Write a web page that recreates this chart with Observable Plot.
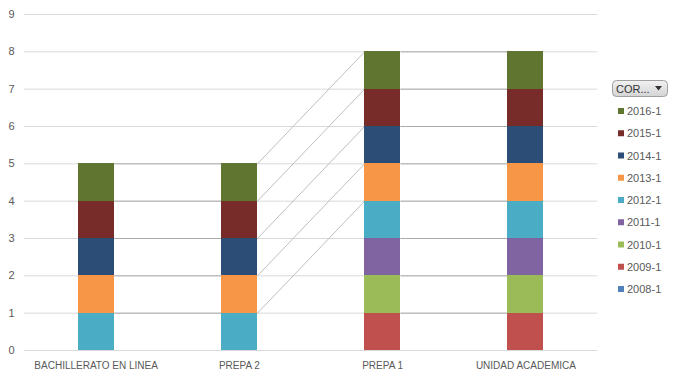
<!DOCTYPE html>
<html><head><meta charset="utf-8">
<script src="https://cdn.jsdelivr.net/npm/d3@7"></script>
<script src="https://cdn.jsdelivr.net/npm/@observablehq/plot@0.6"></script>
<style>
body{margin:0;background:#fff;font-family:"Liberation Sans",Arial,sans-serif;}
#wrap{position:relative;width:674px;height:379px;}
#legend{position:absolute;left:0;top:0;}
</style></head>
<body><div id="wrap"></div>
<script>
const categories = ["BACHILLERATO EN LINEA","PREPA 2","PREPA 1","UNIDAD ACADEMICA"];
const seriesNames = ["2008-1","2009-1","2010-1","2011-1","2012-1","2013-1","2014-1","2015-1","2016-1"];
const seriesColors = ["#4F81BD","#C0504D","#9BBB59","#8064A2","#4BACC6","#F79646","#2C4D75","#772C2A","#5F7530"];
// values per series, in category order (null = blank)
const v2008 = [null,null,null,null];
const v2009 = [null,null,1,1];
const v2010 = [null,null,1,1];
const v2011 = [null,null,1,1];
const v2012 = [1,1,1,1];
const v2013 = [1,1,1,1];
const v2014 = [1,1,1,1];
const v2015 = [1,1,1,1];
const v2016 = [1,1,1,1];
const seriesValues = [v2008,v2009,v2010,v2011,v2012,v2013,v2014,v2015,v2016];
const yTicks = [0,1,2,3,4,5,6,7,8,9];

// cumulative stacking
const tops = categories.map(() => 0);
const bars = [];
const topBySeries = {};
seriesNames.forEach((s, si) => {
  topBySeries[s] = categories.map((c, ci) => {
    const v = seriesValues[si][ci];
    if (v == null) return null;
    const y1 = tops[ci];
    tops[ci] += v;
    if (v > 0) bars.push({series: s, ci, y1, y2: tops[ci]});
    return tops[ci];
  });
});
const half = 0.126;
const links = [];
seriesNames.forEach(s => {
  const t = topBySeries[s];
  for (let i = 0; i < categories.length - 1; i++) {
    if (t[i] != null && t[i+1] != null) links.push({x1: i + half, x2: i + 1 - half, y1: t[i], y2: t[i+1]});
  }
});

const plot = Plot.plot({
  width: 674, height: 379,
  marginLeft: 24, marginRight: 77, marginTop: 14, marginBottom: 29,
  style: {fontFamily: "Liberation Sans, Arial, sans-serif", fontSize: "11px", color: "#595959", background: "#fff"},
  x: {type: "linear", domain: [-0.5, categories.length - 0.5], axis: null},
  y: {domain: [0, 9], axis: null},
  color: {domain: seriesNames, range: seriesColors},
  marks: [
    Plot.ruleY(yTicks, {stroke: "#d9d9d9", strokeWidth: 1}),
    Plot.link(links, {x1: "x1", x2: "x2", y1: "y1", y2: "y2", stroke: d => d.y1 === d.y2 ? "#a6a6a6" : "#b8b8b8", strokeWidth: 0.9}),
    Plot.rect(bars, {x1: d => d.ci - half, x2: d => d.ci + half, y1: "y1", y2: "y2", fill: "series", shapeRendering: "crispEdges"}),
    Plot.text(yTicks, {x: -0.5, y: d => d, text: d => String(d), textAnchor: "end", dx: -10, fill: "#595959", fontSize: 11}),
    Plot.text(categories, {x: (d, i) => i, y: 0, text: d => d, dy: 15, fill: "#595959", fontSize: 10})
  ]
});
document.getElementById("wrap").appendChild(plot);

// legend overlay
const svg = d3.select("#wrap").append("svg").attr("id","legend").attr("width",674).attr("height",379)
  .style("pointer-events","none");
const defs = svg.append("defs");
const g = defs.append("linearGradient").attr("id","btn").attr("x1",0).attr("x2",0).attr("y1",0).attr("y2",1);
g.append("stop").attr("offset","0").attr("stop-color","#f2f2f2");
g.append("stop").attr("offset","1").attr("stop-color","#d4d4d4");
svg.append("rect").attr("x",612.5).attr("y",80.5).attr("width",55).attr("height",16).attr("rx",4)
  .attr("fill","url(#btn)").attr("stroke","#a0a0a0");
svg.append("text").attr("x",616).attr("y",92.5).text("COR...").attr("font-size",11).attr("fill","#333")
  .attr("font-family","Liberation Sans, Arial, sans-serif");
svg.append("path").attr("d","M655,86 L662,86 L658.5,90.5 Z").attr("fill","#333");
const legendOrder = seriesNames.slice().reverse();
legendOrder.forEach((s, i) => {
  const cy = 111 + i * 22.25;
  svg.append("rect").attr("x",618).attr("y",cy - 3).attr("width",6).attr("height",6)
    .attr("fill", seriesColors[seriesNames.indexOf(s)]);
  svg.append("text").attr("x",627).attr("y",cy + 4).text(s).attr("font-size",11).attr("fill","#595959")
    .attr("font-family","Liberation Sans, Arial, sans-serif");
});
</script></body></html>
